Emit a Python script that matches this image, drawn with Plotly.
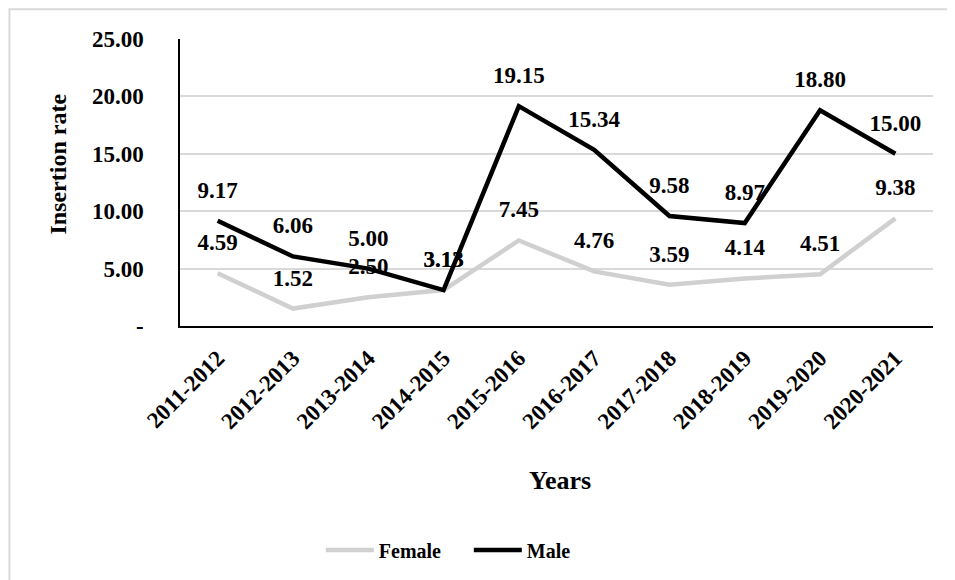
import plotly.graph_objects as go

years = ["2011-2012", "2012-2013", "2013-2014", "2014-2015", "2015-2016",
         "2016-2017", "2017-2018", "2018-2019", "2019-2020", "2020-2021"]
female = [4.59, 1.52, 2.50, 3.13, 7.45, 4.76, 3.59, 4.14, 4.51, 9.38]
male = [9.17, 6.06, 5.00, 3.13, 19.15, 15.34, 9.58, 8.97, 18.80, 15.00]
y_tickvals = [0, 5, 10, 15, 20, 25]
y_ticktext = ["-", "5.00", "10.00", "15.00", "20.00", "25.00"]

FONT = "Times New Roman, Liberation Serif, serif"
FEMALE_C = "#D0D0D0"
MALE_C = "#000000"

fig = go.Figure()

# data labels (drawn below lines, as in the reference)
for name, vals in (("Female", female), ("Male", male)):
    fig.add_trace(go.Scatter(
        x=years, y=vals, mode="markers+text",
        text=[f"{v:.2f}" for v in vals], textposition="top center",
        textfont=dict(family=FONT, size=23, color="#000000", weight="bold"),
        marker=dict(size=26, color="rgba(0,0,0,0)"),
        showlegend=False, hoverinfo="skip"))

fig.add_trace(go.Scatter(x=years, y=female, mode="lines", name="Female",
                         line=dict(color=FEMALE_C, width=4.5)))
fig.add_trace(go.Scatter(x=years, y=male, mode="lines", name="Male",
                         line=dict(color=MALE_C, width=4.5)))

fig.update_layout(
    width=947, height=572,
    margin=dict(l=172, r=22, t=31, b=253),
    paper_bgcolor="white", plot_bgcolor="white",
    font=dict(family=FONT, color="#000000"),
    showlegend=True,
    legend=dict(orientation="h", x=0.187, xanchor="left", y=-0.774, yanchor="middle",
                font=dict(family=FONT, size=20, weight="bold"), itemwidth=48,
                entrywidth=85, traceorder="normal"),
    xaxis=dict(type="category", showline=True, linecolor="#000000", linewidth=1.5,
               showgrid=False, ticks="", tickangle=-45,
               tickfont=dict(family=FONT, size=23, weight="bold"),
               ticklabelstandoff=8, range=[-0.5, 9.5]),
    yaxis=dict(range=[0, 25], tickvals=y_tickvals, ticktext=y_ticktext,
               showline=True, linecolor="#000000", linewidth=1.5,
               showgrid=True, gridcolor="#D9D9D9", gridwidth=1.5, zeroline=False,
               ticks="", tickfont=dict(family=FONT, size=23, weight="bold"),
               ticklabelstandoff=30),
    annotations=[
        dict(text="Insertion rate", xref="paper", yref="paper", x=-0.162, y=0.5625,
             textangle=-90, showarrow=False, xanchor="center", yanchor="middle",
             font=dict(family=FONT, size=24, weight="bold")),
        dict(text="Years", xref="paper", yref="paper", x=0.505, y=-0.538,
             showarrow=False, xanchor="center", yanchor="middle",
             font=dict(family=FONT, size=26, weight="bold")),
    ],
    shapes=[dict(type="rect", xref="paper", yref="paper", x0=-0.2265, y0=-1.3,
                 x1=1.3, y1=1.104, line=dict(color="#D9D9D9", width=2),
                 fillcolor="rgba(0,0,0,0)", layer="below")],
)

fig.write_html("out.html")
